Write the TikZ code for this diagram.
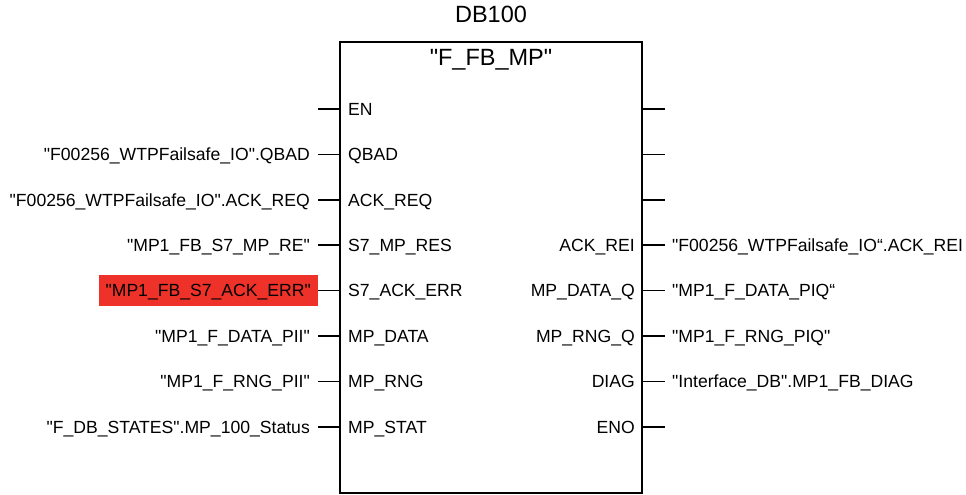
\documentclass[tikz,border=0pt]{standalone}
\usepackage{fontspec}
\setmainfont{Liberation Sans}[Ligatures=TeXOff]
\definecolor{errred}{RGB}{238,50,42}
\tikzset{
  x=1pt,y=-1pt,
  lbl/.style={font=\fontsize{17.6}{21}\selectfont, text height=12.6pt, text depth=0pt, inner sep=0pt},
  ttl/.style={font=\fontsize{23.5}{28}\selectfont, text height=16.8pt, text depth=0pt, inner sep=0pt},
  wire/.style={line width=1.6pt},
  fbbox/.style={draw, line width=1.6pt, minimum width=302pt, minimum height=451pt, inner sep=0pt},
  hilite/.style={fill=errred, inner xsep=7pt, inner ysep=0pt, minimum height=31pt},
}
\begin{document}
\begin{tikzpicture}
\useasboundingbox (0,0) rectangle (966,495);
\node[fbbox] (fb) at (491,267.5) {};
\node[ttl] (db) at (491,14) {DB100};
\node[ttl] (fbname) at (491,57) {"F\_FB\_MP"};
% left pins
\foreach \i/\pin/\ext in {1/EN/,2/QBAD/"F00256\_WTPFailsafe\_IO".QBAD,3/ACK\_REQ/"F00256\_WTPFailsafe\_IO".ACK\_REQ,4/S7\_MP\_RES/"MP1\_FB\_S7\_MP\_RE",6/MP\_DATA/"MP1\_F\_DATA\_PII",7/MP\_RNG/"MP1\_F\_RNG\_PII",8/MP\_STAT/"F\_DB\_STATES".MP\_100\_Status}{
  \pgfmathsetmacro\yy{109+45.4*(\i-1)}
  \coordinate (lo\i) at (318,\yy);
  \draw[wire] (lo\i) -- (lo\i -| fb.west);
  \node[lbl, anchor=west] (lp\i) at (348,\yy) {\pin};
  \node[lbl, anchor=east] (le\i) at (310,\yy) {\ext};
}
% highlighted input
\coordinate (lo5) at (318,290.6);
\draw[wire] (lo5) -- (lo5 -| fb.west);
\node[lbl, anchor=west] (lp5) at (348,290.6) {S7\_ACK\_ERR};
\node[lbl, hilite, anchor=east] (le5) at (lo5) {"MP1\_FB\_S7\_ACK\_ERR"};
% right pins
\foreach \i/\pin/\ext in {1//,2//,3//,4/ACK\_REI/"F00256\_WTPFailsafe\_IO“.ACK\_REI,5/MP\_DATA\_Q/"MP1\_F\_DATA\_PIQ“,6/MP\_RNG\_Q/"MP1\_F\_RNG\_PIQ",7/DIAG/"Interface\_DB".MP1\_FB\_DIAG,8/ENO/}{
  \pgfmathsetmacro\yy{109+45.4*(\i-1)}
  \coordinate (ro\i) at (665,\yy);
  \draw[wire] (ro\i -| fb.east) -- (ro\i);
  \node[lbl, anchor=east] (rp\i) at (635,\yy) {\pin};
  \node[lbl, anchor=west] (re\i) at (672,\yy) {\ext};
}
\end{tikzpicture}
\end{document}
